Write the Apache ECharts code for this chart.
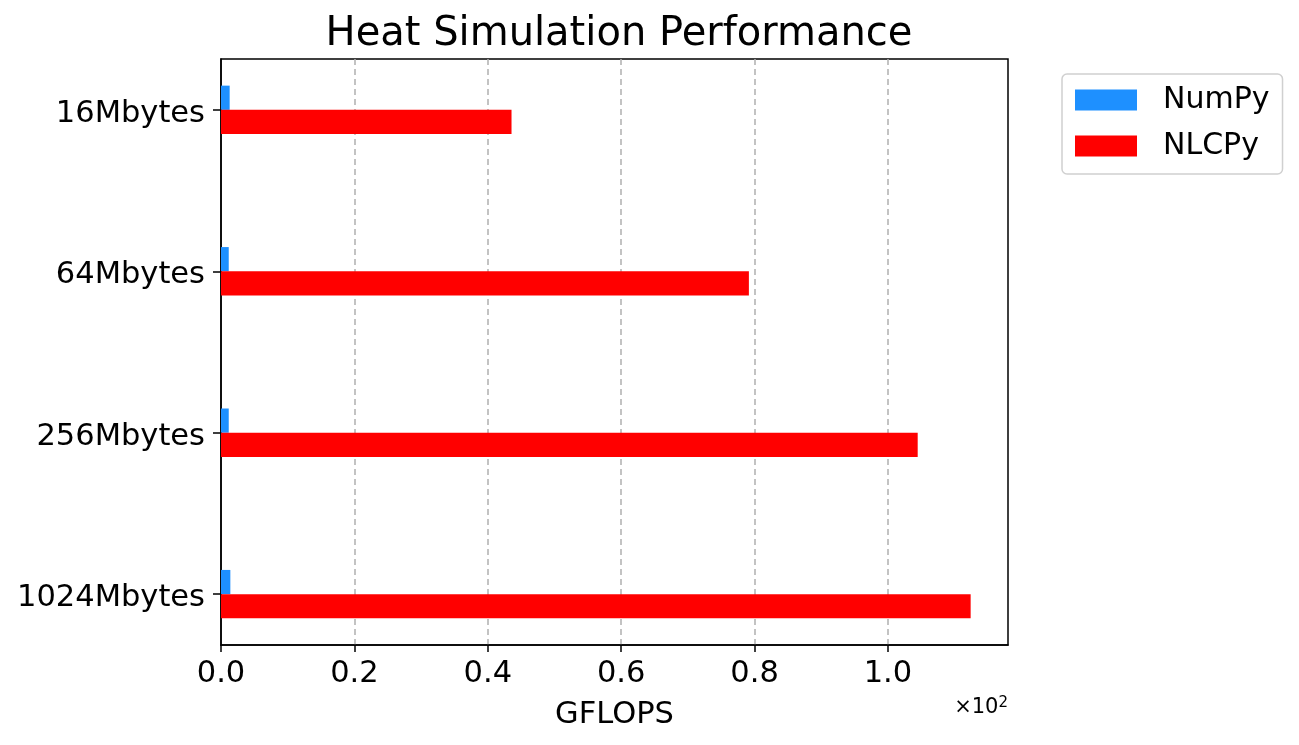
<!DOCTYPE html>
<html>
<head>
<meta charset="utf-8">
<title>Heat Simulation Performance</title>
<script src="https://cdn.jsdelivr.net/npm/echarts@6/dist/echarts.min.js"></script>
<style>
  html, body { margin: 0; padding: 0; background: #fff; }
  #main { width: 1299px; height: 745px; }
</style>
</head>
<body>
<div id="main"></div>
<script>
// data (GFLOPS, axis shown x10^2)
var categories = ['16Mbytes', '64Mbytes', '256Mbytes', '1024Mbytes'];
var numpyVals = [0.013, 0.0116, 0.0116, 0.014];
var nlcpyVals = [0.4356, 0.7915, 1.0446, 1.124];
var xTicks = [0, 0.2, 0.4, 0.6, 0.8, 1.0];
var yTicks = [0, 1, 2, 3];

var font = 'DejaVu Sans';
var chart = echarts.init(document.getElementById('main'));

function toPairs(vals) {
  return vals.map(function (v, i) { return [v, i]; });
}

// bars drawn through the axes: numpy above the tick, nlcpy below it
function barRenderer(off0, off1) {
  return function (params, api) {
    var v = api.value(0), idx = api.value(1);
    var p0 = api.coord([0, idx + off0]);
    var p1 = api.coord([v, idx + off1]);
    return {
      type: 'rect',
      shape: { x: p0[0], y: Math.min(p0[1], p1[1]), width: p1[0] - p0[0], height: Math.abs(p1[1] - p0[1]) },
      style: { fill: api.visual('color') }
    };
  };
}

var option = {
  animation: false,
  backgroundColor: '#fff',
  textStyle: { fontFamily: font },
  title: {
    text: 'Heat Simulation Performance',
    left: 614, top: 10, textAlign: 'center',
    textStyle: { fontFamily: font, fontSize: 40, fontWeight: 'normal', color: '#000' }
  },
  grid: {
    left: 221, top: 59, width: 787, height: 586,
    show: true, borderColor: '#000', borderWidth: 1.5,
    outerBoundsMode: 'none'
  },
  legend: {
    orient: 'vertical', left: 1062, top: 74,
    padding: [11, 13, 13, 13],
    backgroundColor: '#fff',
    borderColor: '#d0d0d0', borderWidth: 1.5, borderRadius: 5,
    icon: 'rect', itemWidth: 62, itemHeight: 21, itemGap: 16,
    textStyle: { fontFamily: font, fontSize: 30, color: '#000', padding: [0, 0, 0, 21] },
    data: ['NumPy', 'NLCPy']
  },
  xAxis: {
    type: 'value', min: 0, max: 1.18, interval: 0.2,
    name: 'GFLOPS', nameLocation: 'middle', nameGap: 55,
    nameTextStyle: { fontFamily: font, fontSize: 30.5, color: '#000' },
    axisLine: { show: true, onZero: false, lineStyle: { color: '#000', width: 1.5 } },
    axisTick: { show: true, inside: false, length: 7, customValues: xTicks, lineStyle: { color: '#000', width: 1.5 } },
    axisLabel: {
      fontFamily: font, fontSize: 30.5, color: '#000', margin: 14,
      customValues: xTicks,
      formatter: function (v) { return v.toFixed(1); }
    },
    splitLine: { show: true, showMinLine: false, lineStyle: { color: '#b0b0b0', width: 1.5, type: [6, 4] } }
  },
  yAxis: {
    type: 'value', inverse: true, min: -0.315, max: 3.315,
    axisLine: { show: true, onZero: false, lineStyle: { color: '#000', width: 1.5 } },
    axisTick: { show: true, length: 8, customValues: yTicks, lineStyle: { color: '#000', width: 1.5 } },
    axisLabel: {
      fontFamily: font, fontSize: 30.5, color: '#000', margin: 16,
      customValues: yTicks,
      formatter: function (v) { return '{c|' + categories[Math.round(v)] + '}'; },
      rich: { c: { fontFamily: font, fontSize: 30.5, color: '#000', padding: [8, 0, 0, 0] } }
    },
    splitLine: { show: false }
  },
  graphic: [{
    type: 'text', right: 1299 - 1008, top: 696,
    style: {
      text: '×10{sup|2}',
      fontFamily: font, fontSize: 21, fill: '#000',
      rich: { sup: { fontFamily: font, fontSize: 15, verticalAlign: 'top', padding: [0, 0, 8, 0] } }
    }
  }],
  series: [
    {
      name: 'NumPy', type: 'custom', itemStyle: { color: '#1e90ff' },
      renderItem: barRenderer(-0.15, 0),
      encode: { x: 0, y: 1 },
      data: toPairs(numpyVals)
    },
    {
      name: 'NLCPy', type: 'custom', itemStyle: { color: '#ff0000' },
      renderItem: barRenderer(0, 0.15),
      encode: { x: 0, y: 1 },
      data: toPairs(nlcpyVals)
    }
  ]
};

chart.setOption(option);
</script>
</body>
</html>
